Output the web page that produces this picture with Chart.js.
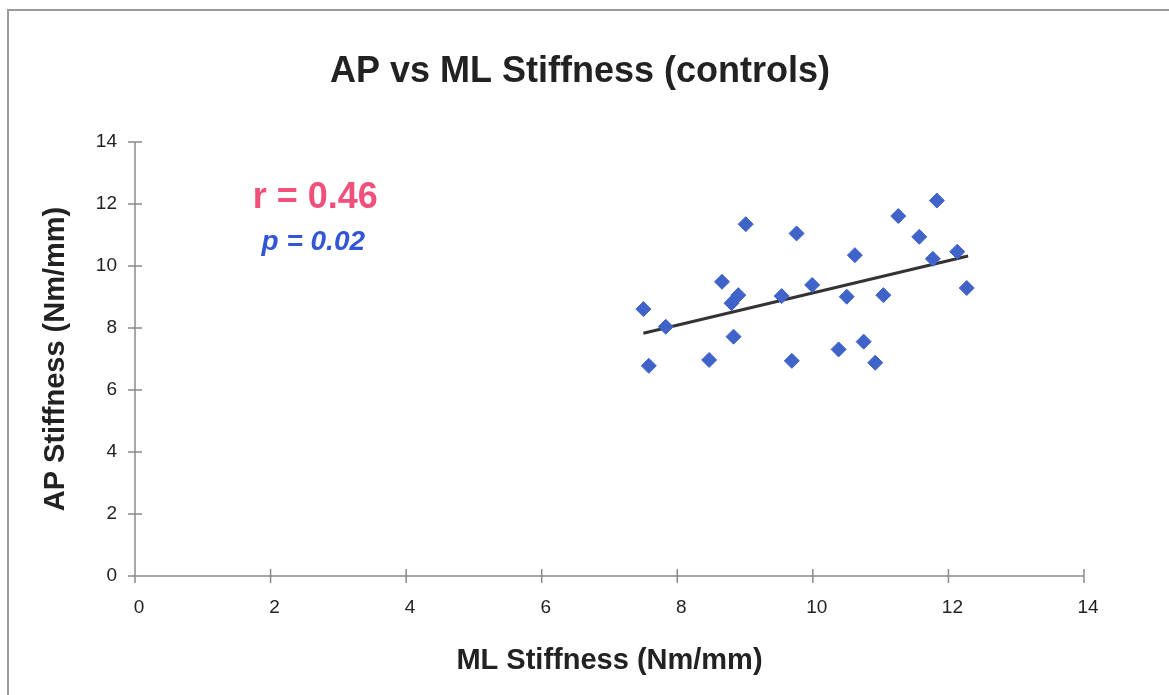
<!DOCTYPE html>
<html>
<head>
<meta charset="utf-8">
<script src="https://cdn.jsdelivr.net/npm/chart.js@4/dist/chart.umd.min.js"></script>
<style>
  html, body { margin: 0; padding: 0; background: #fff; }
  #wrap { width: 1169px; height: 695px; }
</style>
</head>
<body>
<div id="wrap"><canvas id="grafico" width="1169" height="695"></canvas></div>
<script>
// ML stiffness (x) and AP stiffness (y), controls
const mlStiffness = [7.50, 7.58, 7.83, 8.47, 8.66, 8.83, 8.80, 8.90, 9.01, 9.54, 9.69, 9.76, 9.99,
  10.38, 10.50, 10.62, 10.75, 10.92, 11.04, 11.26, 11.57, 11.83, 11.77, 12.13, 12.27];
const apStiffness = [8.61, 6.78, 8.04, 6.97, 9.49, 7.72, 8.80, 9.06, 11.35, 9.03, 6.94, 11.05, 9.39,
  7.31, 9.01, 10.35, 7.56, 6.88, 9.06, 11.61, 10.94, 12.11, 10.23, 10.46, 9.29];

// trendline end points
const trendX = [7.50, 12.29];
const trendY = [7.83, 10.32];

const xTicks = [0, 2, 4, 6, 8, 10, 12, 14];
const yTicks = [0, 2, 4, 6, 8, 10, 12, 14];

const titulo = 'AP vs ML Stiffness (controls)';
const rText = "r = 0.46";
const pText = "p = 0.02";

const pontos = mlStiffness.map((x, i) => ({ x, y: apStiffness[i] }));
const linha = trendX.map((x, i) => ({ x, y: trendY[i] }));

const corEixo = '#8a8a8a';
const fonte = '"Liberation Sans", Arial, sans-serif';

// frame, title, cross ticks and the r / p annotations
const extras = {
  id: 'extras',
  beforeDraw(chart) {
    const ctx = chart.ctx;
    ctx.save();
    ctx.strokeStyle = '#9a9a9a';
    ctx.lineWidth = 2;
    ctx.beginPath();
    ctx.moveTo(8, 700);
    ctx.lineTo(8, 10);
    ctx.lineTo(1175, 10);
    ctx.stroke();

    ctx.fillStyle = '#222';
    ctx.font = 'bold 36px ' + fonte;
    ctx.textAlign = 'center';
    ctx.textBaseline = 'alphabetic';
    ctx.fillText(titulo, 580, 82);
    ctx.restore();
  },
  afterDatasetsDraw(chart) {
    const ctx = chart.ctx;
    const xs = chart.scales.x;
    const ys = chart.scales.y;
    ctx.save();
    ctx.strokeStyle = corEixo;
    ctx.lineWidth = 1.5;
    ctx.beginPath();
    ctx.moveTo(xs.left, ys.bottom);
    ctx.lineTo(xs.right, ys.bottom);
    ctx.moveTo(xs.left, ys.top);
    ctx.lineTo(xs.left, ys.bottom);
    xTicks.forEach((v) => {
      const px = xs.getPixelForValue(v);
      ctx.moveTo(px, ys.bottom - 7);
      ctx.lineTo(px, ys.bottom + 7);
    });
    yTicks.forEach((v) => {
      const py = ys.getPixelForValue(v);
      ctx.moveTo(xs.left - 7, py);
      ctx.lineTo(xs.left + 7, py);
    });
    ctx.stroke();

    ctx.textAlign = 'center';
    ctx.textBaseline = 'middle';
    ctx.fillStyle = '#f0507a';
    ctx.font = 'bold 36px ' + fonte;
    ctx.fillText(rText, xs.getPixelForValue(2.66), ys.getPixelForValue(12.2));
    ctx.fillStyle = '#3356d8';
    ctx.font = 'italic bold 28px ' + fonte;
    ctx.fillText(pText, xs.getPixelForValue(2.63), ys.getPixelForValue(10.75));
    ctx.restore();
  }
};

new Chart(document.getElementById('grafico').getContext('2d'), {
  type: 'scatter',
  data: {
    datasets: [
      {
        label: 'controls',
        data: pontos,
        pointStyle: 'rectRot',
        pointRadius: 7.5,
        pointHoverRadius: 7.5,
        backgroundColor: '#3f63c9',
        borderColor: '#3f63c9',
        borderWidth: 1
      },
      {
        label: 'trend',
        type: 'line',
        data: linha,
        borderColor: '#333333',
        borderWidth: 3,
        pointRadius: 0,
        fill: false
      }
    ]
  },
  options: {
    responsive: false,
    animation: false,
    layout: { padding: { left: 10, right: 85, top: 142, bottom: 0 } },
    plugins: {
      legend: { display: false },
      tooltip: { enabled: false },
      title: { display: false }
    },
    scales: {
      x: {
        type: 'linear',
        min: 0,
        max: 14,
        afterBuildTicks: (s) => { s.ticks = xTicks.map((v) => ({ value: v })); },
        afterFit: (s) => { s.height = 119; },
        grid: { display: false, drawTicks: false },
        border: { display: false },
        ticks: { color: '#222', padding: 20, labelOffset: 4, font: { family: fonte, size: 19 } },
        title: {
          display: true,
          text: 'ML Stiffness (Nm/mm)',
          color: '#222',
          font: { family: fonte, size: 29, weight: 'bold', lineHeight: 1.2 },
          padding: { top: 0, bottom: 17 }
        }
      },
      y: {
        type: 'linear',
        min: 0,
        max: 14,
        afterBuildTicks: (s) => { s.ticks = yTicks.map((v) => ({ value: v })); },
        afterFit: (s) => { s.width = 125; },
        grid: { display: false, drawTicks: false },
        border: { display: false },
        ticks: { color: '#222', padding: 18, font: { family: fonte, size: 19 } },
        title: {
          display: true,
          text: 'AP Stiffness (Nm/mm)',
          color: '#222',
          font: { family: fonte, size: 29, weight: 'bold', lineHeight: 1.2 },
          padding: { top: 29, bottom: 0 }
        }
      }
    }
  },
  plugins: [extras]
});
</script>
</body>
</html>
